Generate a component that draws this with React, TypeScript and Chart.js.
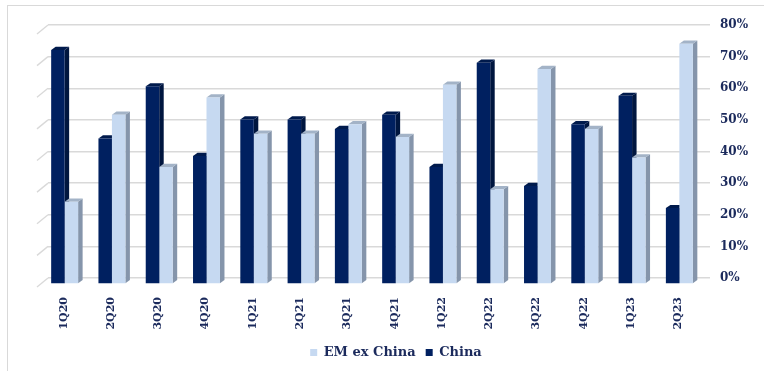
import React, { useEffect, useRef } from 'react';
import { Chart, registerables } from 'chart.js';

Chart.register(...registerables);

const categories = ['1Q20', '2Q20', '3Q20', '4Q20', '1Q21', '2Q21', '3Q21', '4Q21', '1Q22', '2Q22', '3Q22', '4Q22', '1Q23', '2Q23'];
const chinaValues = [74, 46, 62.5, 40.5, 52, 52, 49, 53.5, 37, 70, 31, 50.5, 59.5, 24];
const emExChinaValues = [26, 53.5, 37, 59, 47.5, 47.5, 50.5, 46.5, 63, 30, 68, 49, 40, 76];
const yTickValues = [0, 10, 20, 30, 40, 50, 60, 70, 80];

const NAVY = '#002060';
const LIGHT = '#c6d9f1';
const TEXT = '#1b2a5c';
const FONT = "'DejaVu Serif', Georgia, serif";

const SHIFT_X = -7;
const SHIFT_Y = 6;
const DEPTH_X = 4.5;
const DEPTH_Y = -3.2;

const faceColors = [
  { side: '#00163f', top: '#001a4c' },
  { side: '#8595ab', top: '#a3b3c7' },
];

const depthPlugin = {
  id: 'depth3d',
  beforeDraw(chart: any) {
    const ctx = chart.ctx;
    if (chart.legend) {
      const w = chart.legend.right - chart.legend.left;
      chart.legend.left = 38;
      chart.legend.right = 38 + w;
    }
    const ys = chart.scales.y;
    const left = chart.chartArea.left;
    ctx.save();
    ctx.strokeStyle = '#d9d9d9';
    ctx.lineWidth = 1.3;
    ys.ticks.forEach((t: any) => {
      const py = ys.getPixelForValue(t.value);
      ctx.beginPath();
      ctx.moveTo(left, py);
      ctx.lineTo(left - 11, py + 9);
      ctx.stroke();
    });
    ctx.restore();
  },
  beforeDatasetsDraw(chart: any) {
    const ctx = chart.ctx;
    ctx.save();
    ctx.translate(SHIFT_X, SHIFT_Y);
    const n = chart.data.labels.length;
    for (let i = 0; i < n; i++) {
      chart.data.datasets.forEach((_: any, d: number) => {
        const meta = chart.getDatasetMeta(d);
        const el = meta.data[i];
        if (!el) return;
        const { x, y, base, width } = el.getProps(['x', 'y', 'base', 'width'], true);
        const l = x - width / 2;
        const r = x + width / 2;
        ctx.fillStyle = faceColors[d].side;
        ctx.beginPath();
        ctx.moveTo(r, y);
        ctx.lineTo(r + DEPTH_X, y + DEPTH_Y);
        ctx.lineTo(r + DEPTH_X, base + DEPTH_Y);
        ctx.lineTo(r, base);
        ctx.closePath();
        ctx.fill();
        ctx.fillStyle = faceColors[d].top;
        ctx.beginPath();
        ctx.moveTo(l, y);
        ctx.lineTo(l + DEPTH_X, y + DEPTH_Y);
        ctx.lineTo(r + DEPTH_X, y + DEPTH_Y);
        ctx.lineTo(r, y);
        ctx.closePath();
        ctx.fill();
      });
    }
  },
  afterDatasetsDraw(chart: any) {
    chart.ctx.restore();
  },
};

export default function App() {
  const ref = useRef<HTMLCanvasElement | null>(null);
  useEffect(() => {
    document.body.style.margin = '0';
    document.body.style.overflow = 'hidden';
    if (!ref.current) return;
    const chart = new Chart(ref.current, {
      type: 'bar',
      data: {
        labels: categories,
        datasets: [
          { label: 'China', data: chinaValues, backgroundColor: NAVY, borderWidth: 0 },
          { label: 'EM ex China', data: emExChinaValues, backgroundColor: LIGHT, borderWidth: 0 },
        ],
      },
      options: {
        animation: false,
        responsive: false,
        maintainAspectRatio: false,
        datasets: { bar: { categoryPercentage: 0.57, barPercentage: 1.0 } },
        layout: { padding: { top: 25, left: 48, right: 0, bottom: 2 } },
        plugins: {
          tooltip: { enabled: false },
          legend: {
            position: 'bottom',
            reverse: true,
            labels: {
              boxWidth: 7,
              boxHeight: 7,
              color: TEXT,
              padding: 10,
              font: { family: FONT, size: 13, weight: 'bold' },
            },
          },
        },
        scales: {
          x: {
            grid: { display: false },
            border: { display: false },
            ticks: {
              color: TEXT,
              minRotation: 90,
              maxRotation: 90,
              padding: 11,
              labelOffset: -8,
              font: { family: FONT, size: 11, weight: 'bold' },
            },
            afterFit: (s: any) => { s.height = 58; },
          },
          y: {
            position: 'right',
            min: 0,
            max: 80,
            afterBuildTicks: (s: any) => { s.ticks = yTickValues.map((v) => ({ value: v })); },
            grid: { color: '#d9d9d9', lineWidth: 1.5, drawTicks: false },
            border: { display: false },
            ticks: {
              color: TEXT,
              padding: 10,
              font: { family: FONT, size: 12, weight: 'bold' },
              callback: (v: any) => v + '%',
            },
            afterFit: (s: any) => { s.width = 54; },
          },
        },
      },
      plugins: [depthPlugin],
    });
    return () => chart.destroy();
  }, []);
  return (
    <div style={{ position: 'fixed', left: 0, top: 0, width: 764, height: 371, background: '#fff', overflow: 'hidden' }}>
      <canvas ref={ref} width={764} height={371} style={{ width: 764, height: 371, display: 'block' }} />
      <div style={{ position: 'absolute', left: 7, top: 5, width: 800, height: 400, borderLeft: '1.5px solid #d9d9d9', borderTop: '1.5px solid #d9d9d9', pointerEvents: 'none' }} />
    </div>
  );
}
